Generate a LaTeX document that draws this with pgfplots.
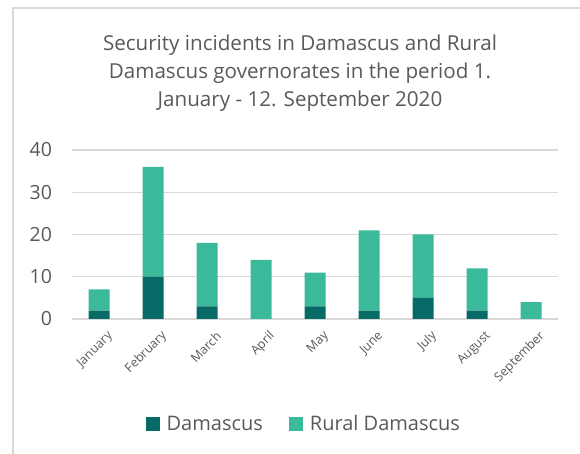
\documentclass[border=0pt]{standalone}
\usepackage{pgfplots}
\pgfplotsset{compat=1.18}
\usepackage{fontspec}
\setmainfont{Open Sans}
\definecolor{dam}{HTML}{066B66}
\definecolor{rur}{HTML}{3BBA9B}
\definecolor{txt}{HTML}{595959}
\definecolor{grd}{HTML}{D9D9D9}
\begin{document}
\begin{tikzpicture}[x=1pt,y=1pt]
\path[use as bounding box] (0,0) rectangle (580,454);
\draw[grd, line width=1.5pt] (13,-5) -- (13,446) -- (590,446);
\node[txt, font=\fontsize{20.6}{28}\selectfont, align=center] at (300,381) {Security incidents in Damascus and Rural\\Damascus governorates in the period 1.\\January - 12. September 2020};
\begin{axis}[
  at={(72pt,135pt)}, anchor=south west,
  width=486pt, height=169pt, scale only axis,
  ybar stacked, bar width=21pt,
  ymin=0, ymax=40, xmin=-0.5, xmax=8.5,
  xtick=data,
  xticklabels={January,February,March,April,May,June,July,August,September},
  ytick={0,10,20,30,40},
  axis line style={draw=none},
  major tick length=0pt,
  ymajorgrids, grid style={grd, line width=1.3pt},
  /pgf/number format/assume math mode=true,
  yticklabel style={txt, font=\fontsize{19.5}{22}\selectfont, anchor=east, xshift=-16.5pt},
  xticklabel style={txt, font=\fontsize{12.5}{14}\selectfont, rotate=45, anchor=east, xshift=1pt, yshift=-19pt},
  legend style={draw=none, at={(0.477,-0.62)}, anchor=center, font=\fontsize{20}{24}\selectfont, text=txt, legend columns=2,
    /tikz/every even column/.append style={column sep=24pt}},
  legend image code/.code={\fill[#1] (0pt,-7pt) rectangle (14pt,7pt); \path (19pt,0pt);},
  legend cell align=left,
]
\addplot[fill=dam, draw=none] coordinates {(0,2) (1,10) (2,3) (3,0) (4,3) (5,2) (6,5) (7,2) (8,0)};
\addplot[fill=rur, draw=none] coordinates {(0,5) (1,26) (2,15) (3,14) (4,8) (5,19) (6,15) (7,10) (8,4)};
\legend{Damascus, Rural Damascus}
\end{axis}
\end{tikzpicture}
\end{document}
